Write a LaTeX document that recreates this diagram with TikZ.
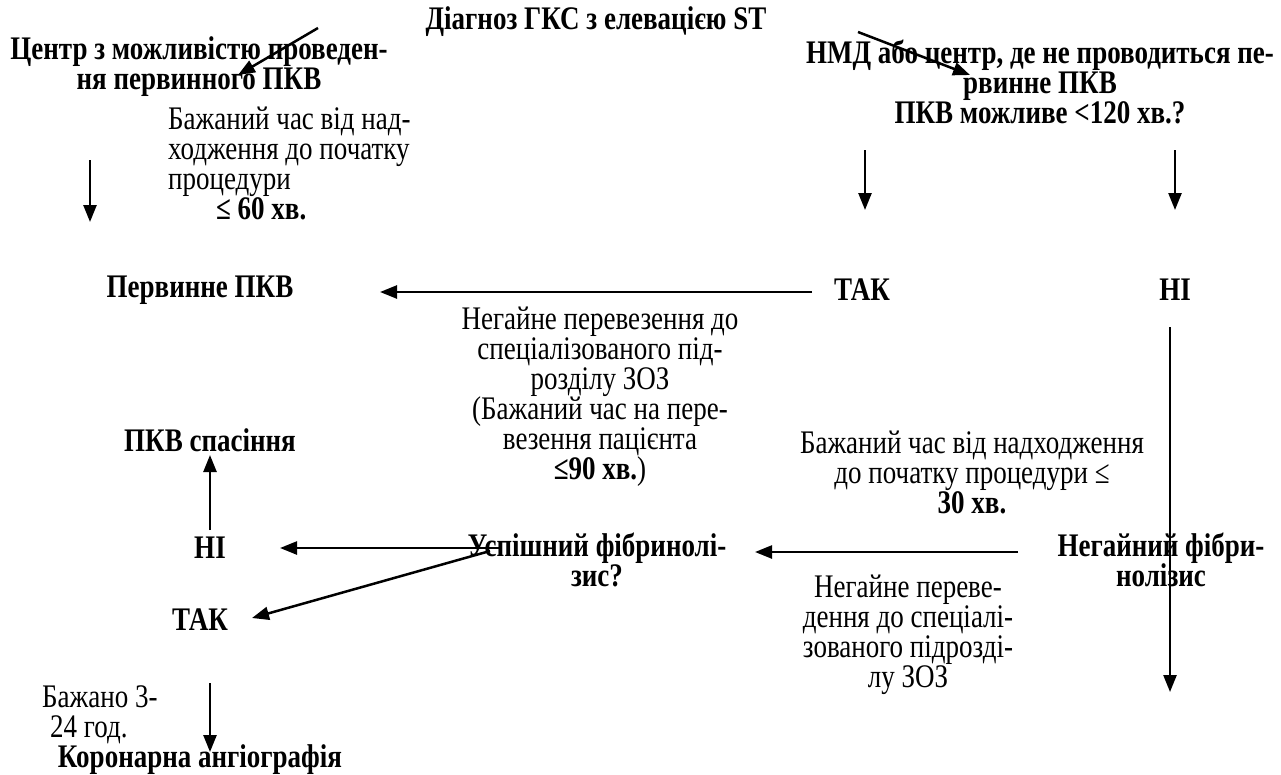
\documentclass[tikz,border=0pt]{standalone}
\usepackage{fontspec}
\setmainfont{Liberation Serif}
\usetikzlibrary{arrows.meta}

\tikzset{
  txt/.style={inner sep=0pt, align=center, yscale=1.22, font=\fontsize{27}{24.6}\selectfont},
  hd/.style={txt, font=\fontsize{27}{24.6}\selectfont\bfseries},
  arr/.style={line width=2.5pt, -{Triangle[length=17pt,width=13pt]}}
}

\begin{document}
\begin{tikzpicture}[x=1pt,y=-1pt]
\useasboundingbox (0,0) rectangle (1281,774);

\node[hd, anchor=base] (fmc) at (650,-3) {ПМК};
\node[hd] (diag) at (596,22) {Діагноз ГКС з елевацією ST};
\node[hd] (pci) at (199,67) {Центр з можливістю проведен-\\ня первинного ПКВ};
\node[txt, align=left, anchor=west] (pcitime) at (168,163) {Бажаний час від над-\\ходження до початку\\процедури\\\hspace*{48pt}\textbf{≤ 60 хв.}};
\node[hd] (nmd) at (1040,82) {НМД або центр, де не проводиться пе-\\рвинне ПКВ\\ПКВ можливе <120 хв.?};

\node[hd] (ppci) at (200,290) {Первинне ПКВ};
\node[hd] (yes1) at (862,290) {ТАК};
\node[hd] (no1) at (1175,290) {НІ};
\node[txt] (transfer) at (600,397) {Негайне перевезення до\\спеціалізованого під-\\розділу ЗОЗ\\(Бажаний час на пере-\\везення пацієнта\\\textbf{≤90 хв.})};
\node[txt] (fibtime) at (972,472) {Бажаний час від надходження\\до початку процедури ≤\\\textbf{30 хв.}};

\node[hd] (fib) at (1161,560) {Негайний фібри-\\нолізис};
\node[txt] (shift) at (908,635) {Негайне переве-\\дення до спеціалі-\\зованого підрозді-\\лу ЗОЗ};
\node[hd] (success) at (597,560) {Успішний фібринолі-\\зис?};
\node[hd] (rescue) at (210,440) {ПКВ спасіння};
\node[hd] (no2) at (210,548) {НІ};
\node[hd] (yes2) at (200,620) {ТАК};
\node[txt, align=left, anchor=west] (angtime) at (42,715) {Бажано 3-\\\hspace*{8pt}24 год.};
\node[hd] (angio) at (200,760) {Коронарна ангіографія};

\coordinate (d1) at (318,28);   \coordinate (p1) at (238,75);
\coordinate (d2) at (858,32);   \coordinate (n1) at (970,75);
\coordinate (p2) at (90,160);   \coordinate (p3) at (90,222);
\coordinate (n2) at (865,150);  \coordinate (y1) at (865,210);
\coordinate (n3) at (1175,150); \coordinate (h1) at (1175,210);
\coordinate (y2) at (812,292);  \coordinate (q1) at (380,292);
\coordinate (h2) at (1170,327); \coordinate (h3) at (1170,692);
\coordinate (f1) at (1018,552); \coordinate (s1) at (755,552);
\coordinate (s2) at (500,548);  \coordinate (h4) at (280,548);
\coordinate (s3) at (490,551);  \coordinate (t1) at (252,618);
\coordinate (h5) at (210,530);  \coordinate (r1) at (210,455);
\coordinate (t2) at (210,683);  \coordinate (a1) at (210,752);

\draw[arr] (d1) -- (p1);
\draw[arr] (d2) -- (n1);
\draw[arr] (p2) -- (p3);
\draw[arr] (n2) -- (y1);
\draw[arr] (n3) -- (h1);
\draw[arr] (y2) -- (q1);
\draw[arr] (h2) -- (h3);
\draw[arr] (f1) -- (s1);
\draw[arr] (s2) -- (h4);
\draw[arr] (s3) -- (t1);
\draw[arr] (h5) -- (r1);
\draw[arr] (t2) -- (a1);
\end{tikzpicture}
\end{document}
